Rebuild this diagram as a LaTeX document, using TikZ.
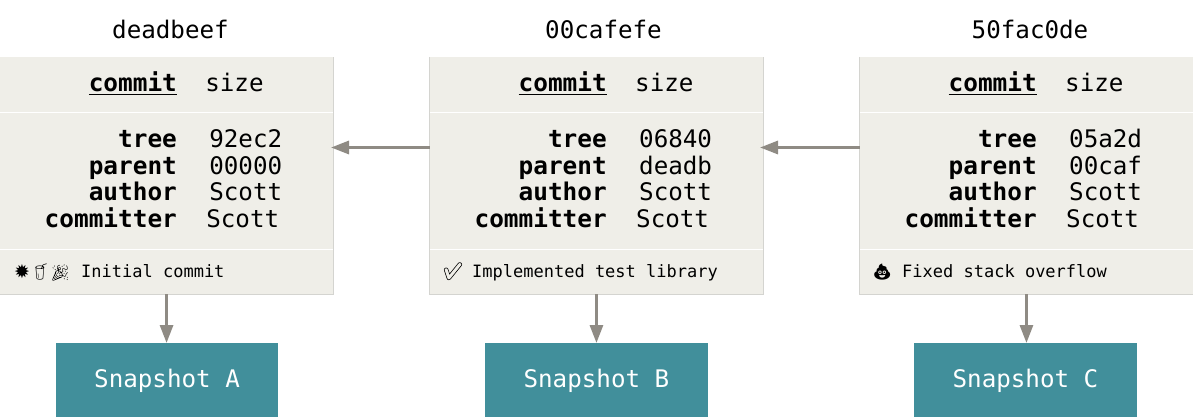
\documentclass[tikz,border=0pt]{standalone}
\usepackage{fontspec}
\setmonofont{DejaVu Sans Mono}
\newfontfamily\emojifont{Noto Emoji}
\newfontfamily\symbfont{DejaVu Sans}
\usetikzlibrary{arrows.meta}
\definecolor{panelfill}{HTML}{EFEEE8}
\definecolor{paneledge}{HTML}{D4D4D0}
\definecolor{linkgray}{HTML}{8F8B84}
\definecolor{snapteal}{HTML}{418F9B}
\tikzset{
    panel/.style={fill=panelfill, inner sep=0pt, anchor=north west},
    bigtext/.style={font=\ttfamily\fontsize{24.2}{24}\selectfont, inner sep=0pt},
    key/.style={font=\ttfamily\fontsize{24.4}{24}\selectfont, inner sep=0pt, anchor=base east},
    value/.style={bigtext, anchor=base west},
    note/.style={font=\ttfamily\fontsize{17}{17}\selectfont, inner sep=0pt, anchor=base west},
    icon/.style={font=\emojifont\fontsize{16}{16}\selectfont, inner sep=0pt, anchor=base west},
    snapshot/.style={bigtext, fill=snapteal, text=white, text height=20pt, text depth=4.6pt, minimum width=222.5pt, minimum height=74pt, anchor=north west},
    link/.style={draw=linkgray, line width=3pt, -{Triangle[length=18pt, width=13pt]}},
}
\begin{document}
\begin{tikzpicture}[x=1pt, y=-1pt]
    \useasboundingbox (0, 0) rectangle (1193, 417);
    \foreach \name/\xpos/\hashx/\hash/\tree/\parent/\msgx/\msg/\snapx in {
        A/-0.4/170.5/deadbeef/92ec2/00000/81.4/Initial commit/55.6,
        B/429.5/603.5/00cafefe/06840/deadb/42.5/Implemented test library/485,
        C/859.5/1030/50fac0de/05a2d/00caf/42.5/Fixed stack overflow/914} {
        % one commit with its three panels
        \node[bigtext, anchor=center] (hash\name) at (\hashx, 29) {\hash};
        \node[panel, minimum width=333.5pt, minimum height=55pt] (head\name) at (\xpos, 57) {};
        \node[panel, minimum width=333.5pt, minimum height=136pt] (body\name) at (\xpos, 113) {};
        \node[panel, minimum width=333.5pt, minimum height=44pt] (foot\name) at (\xpos, 250) {};
        \draw[paneledge] (head\name.north west) -- (foot\name.south west) -- (foot\name.south east) -- (head\name.north east);
        \node[key] (title\name) at (\xpos + 177.5, 92) {\textbf{\underline{commit}}};
        \node[value] (size\name) at (\xpos + 205.5, 92) {size};
        \node[key] (treekey\name) at (\xpos + 177.5, 147) {\textbf{tree}};
        \node[value] (treeval\name) at (\xpos + 209.5, 147) {\tree};
        \node[key] (parentkey\name) at (\xpos + 177.5, 174) {\textbf{parent}};
        \node[value] (parentval\name) at (\xpos + 209.5, 174) {\parent};
        \node[key] (authorkey\name) at (\xpos + 177.5, 200) {\textbf{author}};
        \node[value] (authorval\name) at (\xpos + 209.5, 200) {Scott};
        \node[key] (committerkey\name) at (\xpos + 177.5, 227) {\textbf{committer}};
        \node[value] (committerval\name) at (\xpos + 206.5, 227) {Scott};
        \node[note] (msg\name) at (\xpos + \msgx, 277) {\msg};
        \node[snapshot] (snap\name) at (\snapx, 343) {Snapshot \name};
        \draw[link] (foot\name.south) -- (snap\name.north -| foot\name.south);
    }
    % icons in front of the messages
    \node[icon, font=\symbfont\fontsize{19}{19}\selectfont] (boom) at (14, 278) {✹};
    \node[icon] (drink) at (31, 277) {🥤};
    \node[icon] (party) at (50, 278) {🎉};
    \node[icon, font=\emojifont\fontsize{17}{17}\selectfont] (check) at (442, 277) {\special{pdf:code 1 Tr 0.6 w}✔\special{pdf:code 0 Tr}};
    \node[icon] (pile) at (872, 277) {💩};
    \coordinate (portA) at (331, 147.5);
    \coordinate (portB) at (760, 147.5);
    \draw[link] (bodyB.west |- portA) -- (portA);
    \draw[link] (bodyC.west |- portB) -- (portB);
\end{tikzpicture}
\end{document}
